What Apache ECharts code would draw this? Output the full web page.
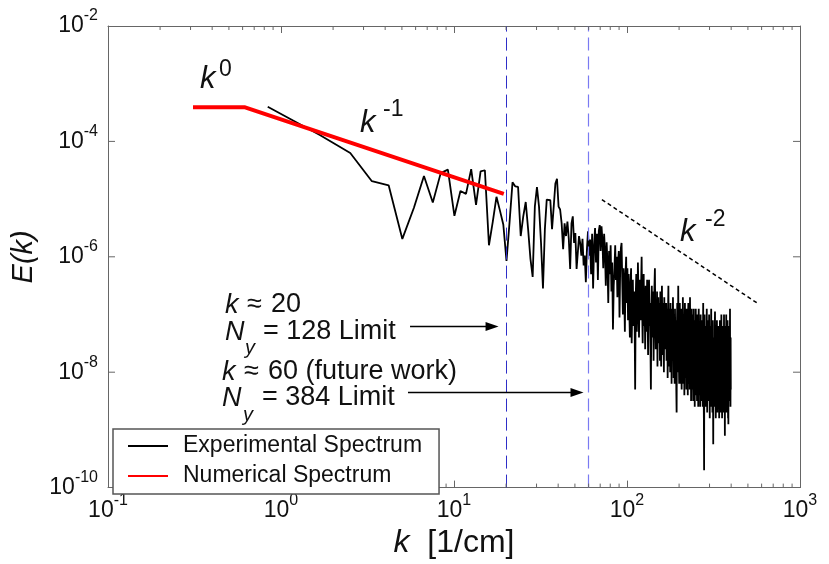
<!DOCTYPE html>
<html><head><meta charset="utf-8">
<script src="https://cdn.jsdelivr.net/npm/echarts@6/dist/echarts.min.js"></script>
<style>html,body{margin:0;padding:0;background:#fff}#c{width:829px;height:564px}</style>
</head><body><div id="c"></div>
<script>
// ---- data ----
const kStep = 0.838; // spacing of experimental wavenumbers [1/cm]
const expLogE = [
-3.40,-3.89,-4.20,-4.69,-4.76,-5.69,-5.15,-4.60,-5.06,-4.55,
-4.49,-5.29,-4.86,-4.91,-4.48,-5.10,-4.52,-4.50,-5.80,-5.39,
-4.96,-5.20,-5.44,-6.07,
-5.40,-4.71,-4.78,-4.79,-5.64,-5.30,-5.05,-5.52,-6.03,-6.35,
-5.13,-4.79,-5.13,-5.76,-6.55,-5.52,-5.01,-5.01,-5.02,-5.52,
-5.13,-4.73,-4.65,-5.13,-5.18,-5.42,
-5.87,-5.42,-5.64,-5.39,-5.69,-6.21,-5.42,-5.30,-5.76,-5.59,
-6.21,-5.93,-5.64,-5.76,-5.98,-5.69,-6.15,-5.98,-6.44,-5.87,
-5.56,-5.98,
-5.70,-6.30,-5.60,-6.55,-5.80,-5.50,-6.10,-5.60,-6.40,-5.55,
-5.45,-5.90,-5.47,-5.70,-6.20,-5.60,-5.90,-6.50,-5.75,-6.10,
-6.80,-5.90,-6.30,-5.80,-6.60,-6.10,-7.26,-6.50,
-6.20,-5.80,-6.40,-6.00,-6.70,-6.10,-5.90,-7.05,-6.20,-5.85,
-5.76,-6.40,-7.00,-6.20,-6.60,-7.30,-6.30,-6.00,-6.80,-6.20,
-7.1,-6.3,-6.9,-7.4,-6.5,-6.2,-7.5,-6.8,-6.4,-7.2,-6.6,-7.0,-8.3,-6.7,-6.3,-7.3,-6.9,-6.1,-6.6,-7.4,
-6.8,-6.4,-7.1,-6.5,-6.0,-6.9,-7.5,-6.6,-6.3,-7.2,-6.8,-7.6,-6.5,-6.9,-7.3,-6.4,-7.0,-7.7,-6.7,-6.4,
-7.2,-6.8,-7.5,-8.3,-6.9,-6.5,-7.4,-7.0,-6.6,-7.8,-6.9,-6.5,-6.2,-7.1,-7.6,-6.8,-7.3,-6.6,-7.9,-7.0,
-6.7,-7.5,-7.1,-6.8,-7.8,-6.6,-7.2,-7.9,-6.9,-6.5,-7.4,-7.7,-6.8,-7.2,-8.0,-6.7,-7.3,-6.9,-7.6,-7.1,
-6.8,-7.8,-7.2,-6.9,-8.1,-7.0,-6.5,-7.4,-7.9,-6.9,-7.3,-8.0,-6.8,-7.5,-7.1,-8.2,-6.9,-7.4,-7.8,-6.7,
-7.3,-8.1,-7.0,-7.6,-8.2,-6.9,-7.4,-7.9,-7.1,-8.3,-8.7,-7.2,-6.8,-7.7,-8.0,-6.5,-7.3,-7.8,-8.2,-7.0,
-6.8,-7.6,-8.2,-7.3,-6.9,-7.9,-8.3,-7.1,-7.5,-8.0,-6.7,-7.4,-8.2,-7.7,-7.0,-8.4,-7.3,-6.8,-7.8,-8.1,
-7.2,-7.6,-8.3,-6.9,-7.5,-8.0,-7.3,-8.4,-7.0,-6.8,-7.9,-8.2,-7.4,-7.1,-8.3,-6.7,-7.5,-8.0,-7.2,-8.5,
-7.6,-6.9,-7.8,-8.3,-7.3,-7.0,-8.1,-8.5,-7.4,-6.9,-7.7,-8.2,-7.5,-8.6,-7.1,-7.8,-8.3,-6.9,-7.6,-8.4,
-7.3,-7.9,-8.5,-7.0,-7.6,-8.2,-7.4,-8.6,-7.1,-6.9,-7.8,-8.4,-7.5,-8.1,-7.2,-8.6,-7.7,-7.0,-8.3,-7.6,
-8.0,-7.3,-8.5,-7.8,-7.1,-8.2,-8.6,-7.4,-6.8,-7.7,-8.3,-8.8,-9.7,-7.5,-7.0,-8.1,-8.5,-7.3,-7.9,-8.6,
-7.2,-7.8,-8.4,-7.5,-6.9,-8.0,-8.7,-7.4,-7.9,-8.3,-7.1,-7.7,-8.5,-8.1,-7.3,-7.0,-8.4,-7.8,-8.8,-7.5,
-7.2,-8.2,-7.9,-8.6,-7.4,-6.9,-7.8,-8.4,-7.6,-8.0,-7.3,-8.7,-7.7,-7.1,-8.3,-9.25,-7.9,-7.4,-8.5,-7.8,
-8.2,-7.5,-8.6,-7.2,-6.95,-7.9,-8.4,-7.6,-8.8,-7.3,-8.1,-7.7,-8.5,-7.4,-7.1,-8.3,-8.7,-7.6,-8.0,-7.3,
-8.4,-7.8,-7.2,-8.6,-8.1,-7.5,-8.8,-7.4,-7.9,-8.3,-7.1,-7.7,-8.5,-8.0,-7.3,-8.7,-7.6,-8.2,-7.0,-7.9,
-8.4,-7.5,-8.8,-7.3,-8.0,-8.6,-7.7,-7.2,-8.3,-7.9,-8.7,-7.4,-8.1,-7.0,-7.8,-8.5,-7.6,-8.2,-9.1,-7.4,
-7.9,-8.4,-7.2,-8.6,-7.7,-8.1,-7.0,-8.3,-7.5,-8.7,-7.8,-7.3,-8.5,-8.0,-7.1,-8.4,-7.6,-8.8,-7.4,-8.9,
-7.5,-8.2,-7.8,-7.2,-8.5,-7.6,-8.1,-7.3,-7.9,-6.9,-8.4,-7.7,-8.6,-7.4,-8.3
];
const numK = [0.31, 0.62, 19.4];
const numE = [3.9e-4, 3.9e-4, 1.23e-5];
const refK = [71.6, 580];
const refE = [9.8e-6, 1.5e-7];
const limitK = [20, 60];
const arrowFromK = [5.57, 5.42];
const arrowToK = [16.6, 51.4];
const arrowE = [6.2e-8, 4.47e-9];
const xMinorTicks = [0.2,0.3,0.4,0.5,0.6,0.7,0.8,0.9,2,3,4,5,6,7,8,9,20,30,40,50,60,70,80,90,200,300,400,500,600,700,800,900];
const yMajorTicks = [1e-8, 1e-6, 1e-4];
const legendNames = ['Experimental Spectrum', 'Numerical Spectrum'];

// ---- chart ----
const F = "'Liberation Sans', Arial, sans-serif";
const TXT = '#111';
const AX = '#666';
const chart = echarts.init(document.getElementById('c'), null, {renderer: 'canvas'});

const expData = expLogE.map((v, i) => [(i + 1) * kStep, Math.pow(10, v)]);
const numData = numK.map((k, i) => [k, numE[i]]);
const refData = refK.map((k, i) => [k, refE[i]]);

const supRich = {
  b: {fontSize: 23, fontFamily: F, color: TXT, lineHeight: 36},
  s: {fontSize: 16, fontFamily: F, color: TXT, lineHeight: 14, verticalAlign: 'top'}
};
function powFmt(step) {
  return function (v) {
    const e = Math.round(Math.log10(v));
    if (e % step !== 0) return '';
    return '{b|10}{s|' + e + '}';
  };
}

function txt(x, y, text, fs, italic) {
  return {type: 'text', x: x, y: y, z: 100, silent: true,
    style: {text: text, fontSize: fs, fontFamily: F, fontStyle: italic ? 'italic' : 'normal',
      fill: TXT, align: 'left', verticalAlign: 'middle'}};
}

const option = {
  animation: false,
  backgroundColor: '#fff',
  grid: {left: 108, top: 26, right: 29, bottom: 68, containLabel: false},
  legend: {
    data: legendNames, orient: 'vertical', left: 113, top: 429,
    itemWidth: 40, itemHeight: 14, itemGap: 6,
    padding: [5, 17, 6, 14], borderColor: '#555', borderWidth: 1.5, backgroundColor: '#fff',
    itemStyle: {opacity: 0},
    textStyle: {fontSize: 23, fontFamily: F, color: TXT, lineHeight: 24, padding: [0, 0, 0, 10]},
    selectedMode: false, z: 50
  },
  xAxis: [
    {type: 'log', logBase: 10, min: 0.1, max: 1000, position: 'bottom',
     axisLine: {show: true, lineStyle: {color: AX, width: 1}},
     axisTick: {show: true, inside: true, length: 7, lineStyle: {color: AX}},
     minorTick: {show: false}, splitLine: {show: false},
     axisLabel: {formatter: powFmt(1), margin: 5, rich: supRich},
     name: '{i|k}  [1/cm]', nameLocation: 'middle', nameGap: 38,
     nameTextStyle: {fontSize: 32, fontFamily: F, color: TXT,
       rich: {i: {fontSize: 32, fontFamily: F, fontStyle: 'italic', color: TXT}}}},
    {type: 'log', logBase: 10, min: 0.1, max: 1000, position: 'top',
     axisLine: {show: true, lineStyle: {color: AX, width: 1}},
     axisTick: {show: true, inside: true, length: 7, lineStyle: {color: AX}},
     axisLabel: {show: false}, splitLine: {show: false}}
  ],
  yAxis: [
    {type: 'log', logBase: 10, min: 1e-10, max: 1e-2, position: 'left',
     axisLine: {show: true, lineStyle: {color: AX, width: 1}},
     axisTick: {show: false}, minorTick: {show: false}, splitLine: {show: false},
     axisLabel: {formatter: powFmt(2), margin: 10, rich: supRich},
     name: 'E(k)', nameLocation: 'middle', nameGap: 45, nameRotate: 90,
     nameTextStyle: {fontSize: 29, fontFamily: F, fontStyle: 'italic', color: TXT}},
    {type: 'log', logBase: 10, min: 1e-10, max: 1e-2, position: 'right',
     axisLine: {show: true, lineStyle: {color: AX, width: 1}},
     axisTick: {show: false}, axisLabel: {show: false}, splitLine: {show: false}}
  ],
  series: [
    {name: legendNames[0], type: 'line', data: expData, symbol: 'none', xAxisIndex: 0, yAxisIndex: 0,
     lineStyle: {color: '#000', width: 1.8}, itemStyle: {color: '#000'}, z: 3,
     markLine: {silent: true, symbol: ['none', 'none'], label: {show: false},
       data: [
         {xAxis: limitK[0], lineStyle: {color: '#2e2ec8', width: 1, type: [13, 6]}},
         {xAxis: limitK[1], lineStyle: {color: '#7a7af2', width: 1.2, type: [13, 6]}}
       ]}},
    {name: legendNames[1], type: 'line', data: numData, symbol: 'none', xAxisIndex: 0, yAxisIndex: 0,
     lineStyle: {color: '#ff0000', width: 4}, itemStyle: {color: '#ff0000'}, z: 4},
    {name: 'k^-2', type: 'line', data: refData, symbol: 'none', xAxisIndex: 0, yAxisIndex: 0,
     lineStyle: {color: '#000', width: 1.5, type: [4, 3]}, z: 4,
     markLine: {silent: true, symbol: ['none', 'triangle'], symbolSize: [9, 13], label: {show: false},
       lineStyle: {color: '#000', width: 1.3, type: 'solid'},
       data: arrowE.map((e, i) => [{coord: [arrowFromK[i], e]}, {coord: [arrowToK[i], e]}])}},
    {type: 'custom', xAxisIndex: 0, yAxisIndex: 0, silent: true, z: 5,
     data: xMinorTicks.map(k => [k, 1e-6]),
     renderItem: function (params, api) {
       const x = api.coord([api.value(0), 1e-6])[0];
       const cs = params.coordSys;
       const st = {stroke: AX, lineWidth: 1};
       return {type: 'group', children: [
         {type: 'line', shape: {x1: x, y1: cs.y + cs.height, x2: x, y2: cs.y + cs.height - 4}, style: st},
         {type: 'line', shape: {x1: x, y1: cs.y, x2: x, y2: cs.y + 4}, style: st}
       ]};
     }},
    {type: 'custom', xAxisIndex: 0, yAxisIndex: 0, silent: true, z: 5,
     data: yMajorTicks.map(e => [1, e]),
     renderItem: function (params, api) {
       const y = api.coord([1, api.value(1)])[1];
       const cs = params.coordSys;
       const st = {stroke: AX, lineWidth: 1};
       return {type: 'group', children: [
         {type: 'line', shape: {x1: cs.x, y1: y, x2: cs.x + 7, y2: y}, style: st},
         {type: 'line', shape: {x1: cs.x + cs.width, y1: y, x2: cs.x + cs.width - 7, y2: y}, style: st}
       ]};
     }}
  ],
  graphic: [
    txt(200, 79, 'k', 31, true), txt(219, 70, '0', 23, false),
    txt(360, 123, 'k', 31, true), txt(383, 110, '-1', 23, false),
    txt(680, 232, 'k', 31, true), txt(705, 220, '-2', 23, false),
    txt(225, 305, 'k', 27, true), txt(247, 305, '\u2248', 27, false), txt(271, 305, '20', 27, false),
    txt(225, 332, 'N', 27, true), txt(245, 348, 'y', 20, true), txt(263, 332, '= 128 Limit', 27, false),
    txt(222, 372, 'k', 27, true), txt(244, 372, '\u2248', 27, false), txt(268, 372, '60 (future work)', 27, false),
    txt(222, 398, 'N', 27, true), txt(243, 415, 'y', 20, true), txt(262, 398, '= 384 Limit', 27, false)
  ]
};
chart.setOption(option);
</script>
</body></html>
